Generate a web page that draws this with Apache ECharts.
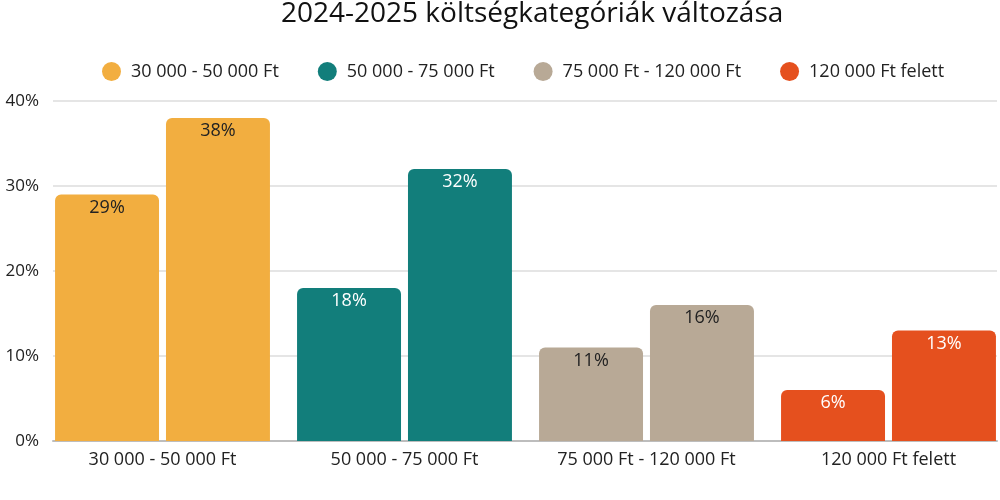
<!DOCTYPE html>
<html>
<head>
<meta charset="utf-8">
<script src="https://cdn.jsdelivr.net/npm/echarts@6/dist/echarts.min.js"></script>
<style>
  html, body { margin: 0; padding: 0; background: #fff; }
  #chart { width: 1000px; height: 500px; }
</style>
</head>
<body>
<div id="chart"></div>
<script>
// kategóriák és értékek
const categories = ['30 000 - 50 000 Ft', '50 000 - 75 000 Ft', '75 000 Ft - 120 000 Ft', '120 000 Ft felett'];
const years = ['2024', '2025'];
const values2024 = [29, 18, 11, 6];
const values2025 = [38, 32, 16, 13];
const colors = ['#F2AE40', '#127E7B', '#B8A996', '#E5501E'];
const labelColors = ['#222222', '#ffffff', '#222222', '#ffffff'];
const yTicks = [0, 10, 20, 30, 40];

function barData(values) {
    return values.map((v, i) => ({
        value: v,
        itemStyle: { color: colors[i] },
        label: { color: labelColors[i] }
    }));
}

const chart = echarts.init(document.getElementById('chart'));

// oszlopok a második (szélesebb) rácson, hogy a csoportok a tengely széléig érjenek
const barSeries = [values2024, values2025].map((vals, k) => ({
    name: years[k],
    type: 'bar',
    xAxisIndex: 1,
    yAxisIndex: 1,
    data: barData(vals),
    barGap: '6.7%',
    barCategoryGap: '11.2%',
    itemStyle: { borderRadius: [6, 6, 0, 0] },
    label: {
        show: true,
        position: 'insideTop',
        distance: 4,
        fontSize: 18,
        fontFamily: 'Open Sans',
        formatter: p => p.value + '%'
    }
}));

// csak a jelmagyarázathoz
const legendSeries = categories.map((c, i) => ({
    name: c,
    type: 'scatter',
    data: [],
    itemStyle: { color: colors[i], opacity: 1 }
}));

const yRange = { min: yTicks[0], max: yTicks[yTicks.length - 1], interval: 10 };

chart.setOption({
    animation: false,
    textStyle: { fontFamily: 'Open Sans' },
    title: {
        text: '2024-2025 költségkategóriák változása',
        left: 276,
        top: -5,
        textStyle: { fontSize: 28, fontWeight: 'normal', color: '#111', fontFamily: 'Open Sans' }
    },
    legend: {
        data: categories,
        top: 57,
        left: 97,
        icon: 'circle',
        itemWidth: 19,
        itemHeight: 19,
        itemGap: 39,
        textStyle: { fontSize: 18, color: '#222', fontFamily: 'Open Sans', padding: [0, 0, 0, 5] }
    },
    grid: [
        { left: 53, right: 3, top: 101, bottom: 59, outerBoundsMode: 'none' },
        { left: 41.5, width: 968, top: 101, bottom: 59, outerBoundsMode: 'none' }
    ],
    xAxis: [
        {
            type: 'value',
            gridIndex: 0,
            axisLabel: { show: false },
            axisTick: { show: false },
            splitLine: { show: false },
            axisLine: { show: true, onZero: false, lineStyle: { color: '#bdbdbd', width: 2 } }
        },
        {
            type: 'category',
            gridIndex: 1,
            data: categories,
            axisTick: { show: false },
            axisLine: { show: false },
            axisLabel: { fontSize: 18, color: '#222', margin: 10, fontFamily: 'Open Sans' }
        }
    ],
    yAxis: [
        {
            type: 'value',
            gridIndex: 0,
            ...yRange,
            axisLine: { show: false },
            axisTick: { show: false },
            axisLabel: { fontSize: 17, color: '#222', margin: 14, formatter: '{value}%', fontFamily: 'Open Sans' },
            splitLine: { lineStyle: { color: '#dcdcdc', width: 1.5 } }
        },
        {
            type: 'value',
            gridIndex: 1,
            ...yRange,
            show: false,
            splitLine: { show: false }
        }
    ],
    series: [...barSeries, ...legendSeries]
});
</script>
</body>
</html>
